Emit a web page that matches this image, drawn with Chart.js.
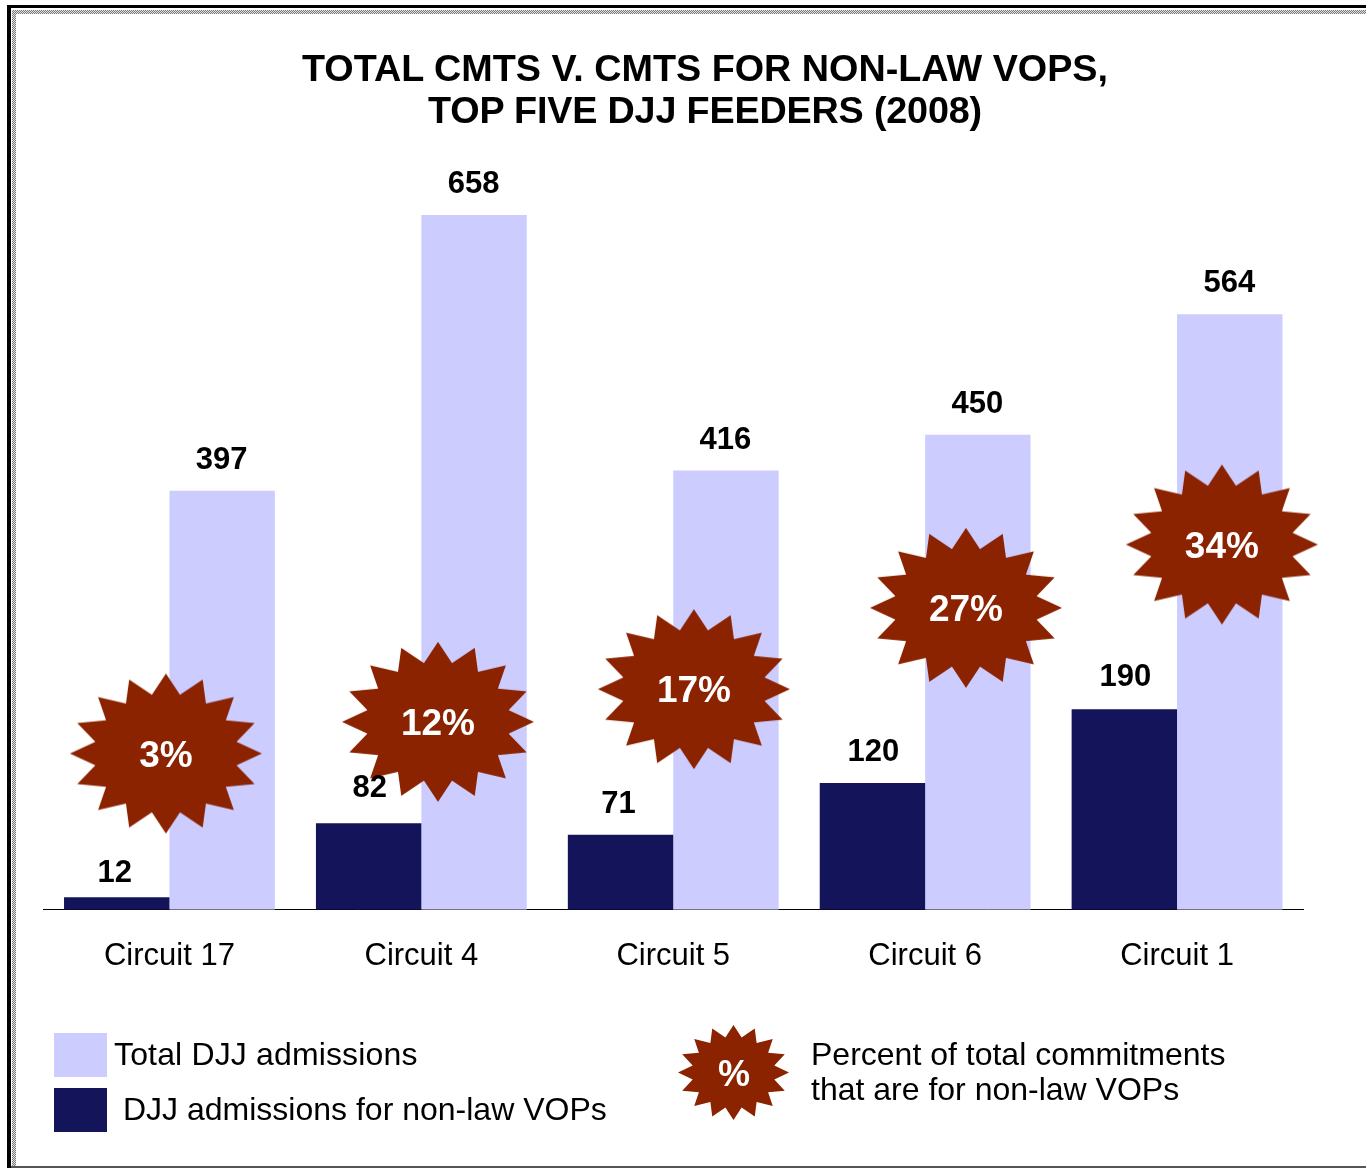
<!DOCTYPE html>
<html>
<head>
<meta charset="utf-8">
<script src="https://cdn.jsdelivr.net/npm/chart.js@4"></script>
<style>
  html, body { margin: 0; padding: 0; background: #fff; overflow: hidden; }
  #page { position: relative; width: 1366px; height: 1168px; font-family: "Liberation Sans", Arial, sans-serif; color: #000; }
  #chart { position: absolute; left: 0; top: 0; }
  .frame { position: absolute; }
  .dots { background: repeating-conic-gradient(#777 0 25%, #e4e4e4 0 50%) 0 0 / 2px 2px; }
  .leg { position: absolute; font-size: 32px; line-height: 35px; white-space: nowrap; }
  .swatch { position: absolute; }
  #title { position: absolute; left: 105px; width: 1200px; top: 47px; text-align: center; font-size: 37.75px; line-height: 42px; font-weight: bold; }
  #title div + div { letter-spacing: -0.18px; }
</style>
</head>
<body>
<div id="page">
  <canvas id="chart" width="1366" height="1168"></canvas>
  <div class="frame" style="left:7px;top:5px;width:1359px;height:3px;background:#000"></div>
  <div class="frame" style="left:7px;top:5px;width:4px;height:1163px;background:#000"></div>
  <div class="frame dots" style="left:12px;top:10px;width:1354px;height:4px"></div>
  <div class="frame dots" style="left:12px;top:10px;width:4px;height:1156px"></div>
  <div class="frame" style="left:11px;top:1166px;width:1355px;height:2px;background:#555"></div>

  <div id="title"></div>

  <div class="swatch" style="left:54px;top:1033px;width:53px;height:44px;background:#ccccff"></div>
  <div class="leg" style="left:114px;top:1037px;letter-spacing:.15px">Total DJJ admissions</div>
  <div class="swatch" style="left:54px;top:1088px;width:53px;height:44px;background:#14145a"></div>
  <div class="leg" style="left:123px;top:1092px">DJJ admissions for non-law VOPs</div>
  <div class="leg" style="left:811px;top:1037px">Percent of total commitments<br>that are for non-law VOPs</div>
</div>

<script>
// ===== Data =====
const categories = ["Circuit 17", "Circuit 4", "Circuit 5", "Circuit 6", "Circuit 1"];
const nonLawVops = [12, 82, 71, 120, 190];
const totalAdmissions = [397, 658, 416, 450, 564];
const percents = ["3%", "12%", "17%", "27%", "34%"];
// where each burst sits, in axis units (category index, admissions)
const burstX = [-0.014, 1.066, 2.082, 3.162, 4.178];
const burstY = [148, 178, 209, 286, 346];
const titleLines = ["TOTAL CMTS V. CMTS FOR NON-LAW VOPS,", "TOP FIVE DJJ FEEDERS (2008)"];

const DARK = "#14145a";
const LIGHT = "#ccccff";
const RUST = "#8b2200";

// the dark bar labels were placed by hand in the original, small offsets in px
const darkLabelDx = [-2, 1, -2, 1, 1];
const darkLabelDy = [7, -4, 0, 0, -1];

titleLines.forEach(line => {
  const d = document.createElement("div");
  d.textContent = line;
  document.getElementById("title").appendChild(d);
});

// ===== 16 point burst, used as the point style and in the legend =====
function makeBurst(rx, ry) {
  const c = document.createElement("canvas");
  c.width = Math.ceil(rx * 2) + 2;
  c.height = Math.ceil(ry * 2) + 2;
  const ctx = c.getContext("2d");
  ctx.fillStyle = RUST;
  ctx.beginPath();
  for (let i = 0; i < 32; i++) {
    const a = i * Math.PI / 16;
    const k = i % 2 === 0 ? 1 : 0.75;
    const x = c.width / 2 + Math.sin(a) * rx * k;
    const y = c.height / 2 - Math.cos(a) * ry * k;
    if (i === 0) ctx.moveTo(x, y); else ctx.lineTo(x, y);
  }
  ctx.closePath();
  ctx.fill();
  return c;
}

// legend burst
const legendBurst = makeBurst(55.5, 47.5);
legendBurst.style.position = "absolute";
legendBurst.style.left = (733.5 - legendBurst.width / 2) + "px";
legendBurst.style.top = (1072.5 - legendBurst.height / 2) + "px";
document.getElementById("page").appendChild(legendBurst);
const legendPct = document.createElement("div");
legendPct.className = "leg";
legendPct.textContent = "%";
legendPct.style.cssText = "left:718px;top:1056px;font-size:36px;font-weight:bold;color:#fff";
document.getElementById("page").appendChild(legendPct);

// ===== Labels on bars and bursts =====
const labelPlugin = {
  id: "labelPlugin",
  afterDatasetsDraw(chart) {
    const ctx = chart.ctx;
    ctx.save();
    ctx.textAlign = "center";
    ctx.textBaseline = "alphabetic";
    ctx.fillStyle = "#000";
    ctx.font = "bold 31px 'Liberation Sans'";
    chart.getDatasetMeta(0).data.forEach((bar, i) => {
      ctx.fillText(nonLawVops[i], bar.x + darkLabelDx[i], bar.y - 22 + darkLabelDy[i]);
    });
    chart.getDatasetMeta(1).data.forEach((bar, i) => {
      ctx.fillText(totalAdmissions[i], bar.x - 0.5, bar.y - 22);
    });
    ctx.fillStyle = "#fff";
    ctx.font = "bold 37px 'Liberation Sans'";
    chart.getDatasetMeta(2).data.forEach((pt, i) => {
      ctx.fillText(percents[i], pt.x, pt.y + 13);
    });
    ctx.restore();
  }
};

// ===== Chart =====
// x is a linear axis so the bursts can sit between the category positions
new Chart(document.getElementById("chart"), {
  type: "bar",
  data: {
    datasets: [
      { label: "DJJ admissions for non-law VOPs", data: nonLawVops.map((y, x) => ({ x, y })), backgroundColor: DARK, order: 2 },
      { label: "Total DJJ admissions", data: totalAdmissions.map((y, x) => ({ x, y })), backgroundColor: LIGHT, order: 2 },
      {
        type: "scatter",
        label: "Percent of total commitments that are for non-law VOPs",
        data: burstX.map((x, i) => ({ x, y: burstY[i] })),
        pointStyle: makeBurst(96, 80),
        clip: false,
        order: 1
      }
    ]
  },
  options: {
    responsive: false,
    animation: false,
    events: [],
    layout: { padding: { left: 43.5, right: 63, bottom: 165, top: 0 } },
    datasets: { bar: { categoryPercentage: 0.837, barPercentage: 1 } },
    scales: {
      x: {
        type: "linear",
        offset: false,
        min: -0.5,
        max: 4.5,
        afterBuildTicks: axis => { axis.ticks = categories.map((c, i) => ({ value: i })); },
        grid: { display: false, drawTicks: false },
        border: { color: "#000", width: 1 },
        ticks: {
          autoSkip: false,
          maxRotation: 0,
          color: "#000",
          font: { family: "Liberation Sans", size: 31 },
          padding: 28,
          callback: v => categories[v]
        }
      },
      y: { display: false, min: 0, max: 857 }
    },
    plugins: {
      legend: { display: false },
      tooltip: { enabled: false }
    }
  },
  plugins: [labelPlugin]
});
</script>
</body>
</html>
